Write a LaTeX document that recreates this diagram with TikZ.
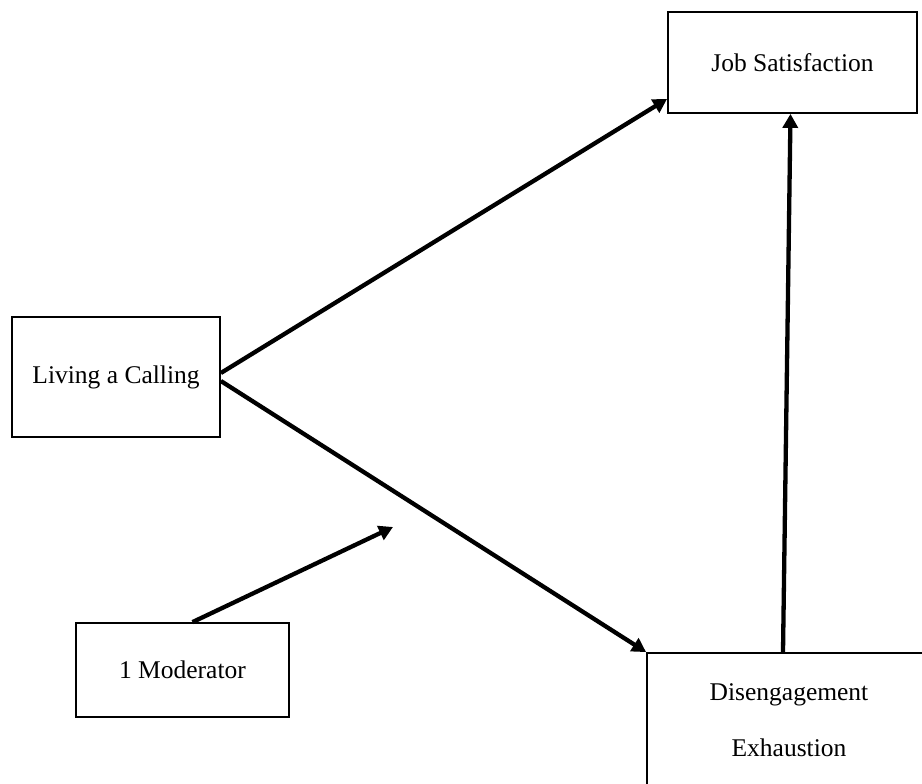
\documentclass[tikz,border=0pt]{standalone}
\usepackage{fontspec}
\setmainfont{Liberation Serif}
\usetikzlibrary{arrows.meta}
\begin{document}
\begin{tikzpicture}[x=1pt,y=-1pt,
  box/.style={draw, line width=1.8pt, rectangle, inner sep=0pt, align=center,
    font=\fontsize{25.5}{56}\selectfont},
  link/.style={line width=4.3pt, -{Triangle[length=14pt,width=15pt]}}]
\useasboundingbox (0,0) rectangle (922,784);
\fill[white] (0,0) rectangle (922,784);
\begin{scope}
\clip (0,0) rectangle (922,784);
% variable boxes
\node[box, minimum width=249pt, minimum height=101pt] (js)  at (792.5,62.5) {Job Satisfaction};
\node[box, minimum width=208pt, minimum height=120pt] (lac) at (116,377)    {Living a Calling};
\node[box, minimum width=213pt, minimum height=94pt]  (mod) at (182.5,670)  {1 Moderator};
\node[box, minimum width=284pt, minimum height=134pt] (dis) at (789,720)    {Disengagement\\Exhaustion};
% target of the moderating effect (the path from calling to disengagement)
\coordinate (mpath) at (393,527);
% paths
\draw[link] ([yshift=4pt]lac.east) -- ([yshift=15pt]js.south west);
\draw[link] ([yshift=-4pt]lac.east) -- (dis.north west);
\draw[link] ([xshift=-6pt]dis.north) -- ([xshift=-2pt]js.south);
\draw[link] ([xshift=10pt]mod.north) -- (mpath);
\end{scope}
\end{tikzpicture}
\end{document}
